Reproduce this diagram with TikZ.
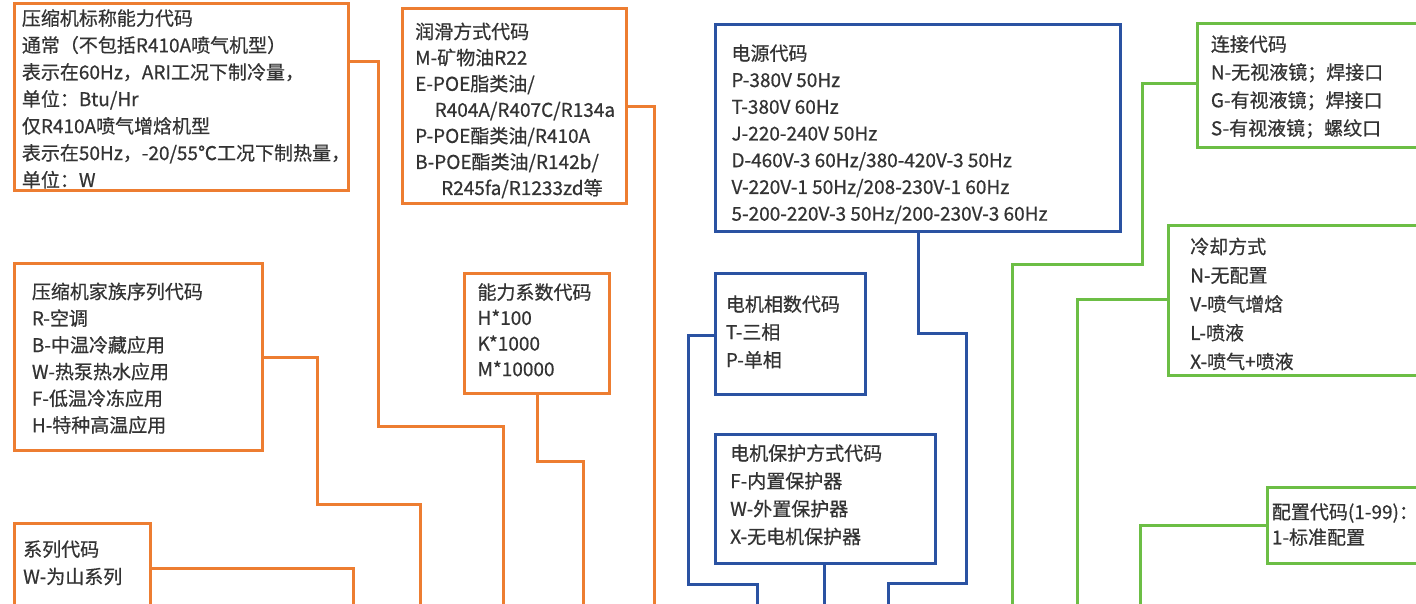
\documentclass[tikz,border=0pt]{standalone}
\usepackage{fontspec}
\setmainfont[RawFeature={embolden=0.6}]{Noto Sans CJK SC}
\definecolor{orng}{HTML}{ED7D31}
\definecolor{blu}{HTML}{2A52A2}
\definecolor{grn}{HTML}{6CBE45}
\definecolor{ink}{HTML}{333333}
\begin{document}
\begin{tikzpicture}[x=1pt,y=-1pt,
  box/.style={draw,line width=3pt,anchor=north west,inner sep=0pt,outer sep=0pt},
  obox/.style={box,draw=orng},
  bbox/.style={box,draw=blu},
  gbox/.style={box,draw=grn},
  oline/.style={draw=orng,line width=3pt},
  bline/.style={draw=blu,line width=3pt},
  gline/.style={draw=grn,line width=3pt},
  txt/.style={anchor=base west,inner sep=0pt,text=ink,font=\fontsize{19pt}{22pt}\selectfont}]
\useasboundingbox (0,0) rectangle (1416,604);
\fill[white] (0,0) rectangle (1416,604);
\clip (0,0) rectangle (1416,604);

% free ends of connectors
\coordinate (e1) at (503,612);
\coordinate (e2) at (420.5,612);
\coordinate (e3) at (353,612);
\coordinate (e4) at (583,612);
\coordinate (e5) at (654,612);
\coordinate (e6) at (888,612);
\coordinate (e7) at (757,612);
\coordinate (e8) at (824,612);
\coordinate (e9) at (1012,612);
\coordinate (e10) at (1077,612);
\coordinate (e11) at (1140,612);

% boxes
\node[obox,minimum width=334pt,minimum height=187pt] (b1) at (14,4) {};
\node[obox,minimum width=248pt,minimum height=187pt] (b2) at (14,263) {};
\node[obox,minimum width=136pt,minimum height=120pt] (b3) at (14,523) {};
\node[obox,minimum width=144.5pt,minimum height=119.5pt] (b4) at (464.5,273.5) {};
\node[obox,minimum width=224pt,minimum height=195.5pt] (b5) at (402,8.5) {};
\node[bbox,minimum width=405pt,minimum height=206.5pt] (b6) at (715,25) {};
\node[bbox,minimum width=150pt,minimum height=121pt] (b7) at (715.5,273) {};
\node[bbox,minimum width=220pt,minimum height=129pt] (b8) at (715.5,434) {};
\node[gbox,minimum width=260pt,minimum height=124pt] (b9) at (1197,23.5) {};
\node[gbox,minimum width=290pt,minimum height=149.5pt] (b10) at (1168,225.5) {};
\node[gbox,minimum width=190pt,minimum height=76pt] (b11) at (1267,487) {};

% connectors
\path[oline] (b1.east |- 0,62) -| (378,426) -| (e1);
\path[oline] (b2.east |- 0,357) -| (317,504) -| (e2);
\path[oline] (b3.east |- 0,568) -| (e3);
\path[oline] (b4.south -| 537,0) |- (583,461) -- (e4);
\path[oline] (b5.east |- 0,107) -| (e5);
\path[bline] (b6.south -| 918,0) |- (966,333) |- (888,583) -- (e6);
\path[bline] (b7.west |- 0,335) -| (688,584) -| (e7);
\path[bline] (b8.south -| 824,0) -- (e8);
\path[gline] (b9.west |- 0,84) -| (1142.5,264) -| (e9);
\path[gline] (b10.west |- 0,299) -| (e10);
\path[gline] (b11.west |- 0,525) -| (e11);

% texts
\foreach \s [count=\i] in {{压缩机标称能力代码},{通常（不包括R410A喷气机型）},{表示在60Hz，ARI工况下制冷量，},{单位：Btu/Hr},{仅R410A喷气增焓机型},{表示在50Hz，-20/55℃工况下制热量，},{单位：W}}
  \node[txt] (t1-\i) at (21.7,{25.3+26.95*(\i-1)}) {\s};
\foreach \s [count=\i] in {{压缩机家族序列代码},{R-空调},{B-中温冷藏应用},{W-热泵热水应用},{F-低温冷冻应用},{H-特种高温应用}}
  \node[txt] (t2-\i) at (31.7,{298.7+26.7*(\i-1)}) {\s};
\foreach \s [count=\i] in {{系列代码},{W-为山系列}}
  \node[txt] (t3-\i) at (23,{556.3+27.4*(\i-1)}) {\s};
\foreach \s [count=\i] in {{能力系数代码},{H*100},{K*1000},{M*10000}}
  \node[txt] (t4-\i) at (477.3,{299.3+25.6*(\i-1)}) {\s};
\foreach \s [count=\i] in {{润滑方式代码},{M-矿物油R22},{E-POE脂类油/},{\hspace*{19.5pt}R404A/R407C/R134a},{P-POE酯类油/R410A},{B-POE酯类油/R142b/},{\hspace*{26pt}R245fa/R1233zd等}}
  \node[txt] (t5-\i) at (415,{38.7+26.05*(\i-1)}) {\s};
\foreach \s [count=\i] in {{电源代码},{P-380V 50Hz},{T-380V 60Hz},{J-220-240V 50Hz},{D-460V-3 60Hz/380-420V-3 50Hz},{V-220V-1 50Hz/208-230V-1 60Hz},{5-200-220V-3 50Hz/200-230V-3 60Hz}}
  \node[txt] (t6-\i) at (731.3,{60.3+26.73*(\i-1)}) {\s};
\foreach \s [count=\i] in {{电机相数代码},{T-三相},{P-单相}}
  \node[txt] (t7-\i) at (725.7,{311.3+27.85*(\i-1)}) {\s};
\foreach \s [count=\i] in {{电机保护方式代码},{F-内置保护器},{W-外置保护器},{X-无电机保护器}}
  \node[txt] (t8-\i) at (730,{460.3+27.8*(\i-1)}) {\s};
\foreach \s [count=\i] in {{连接代码},{N-无视液镜；焊接口},{G-有视液镜；焊接口},{S-有视液镜；螺纹口}}
  \node[txt] (t9-\i) at (1210.7,{51.3+28*(\i-1)}) {\s};
\foreach \s [count=\i] in {{冷却方式},{N-无配置},{V-喷气增焓},{L-喷液},{X-喷气+喷液}}
  \node[txt] (t10-\i) at (1190,{253.7+28.75*(\i-1)}) {\s};
\foreach \s [count=\i] in {{配置代码(1-99)：},{1-标准配置}}
  \node[txt] (t11-\i) at (1271.7,{519+25.3*(\i-1)}) {\s};
\end{tikzpicture}
\end{document}
